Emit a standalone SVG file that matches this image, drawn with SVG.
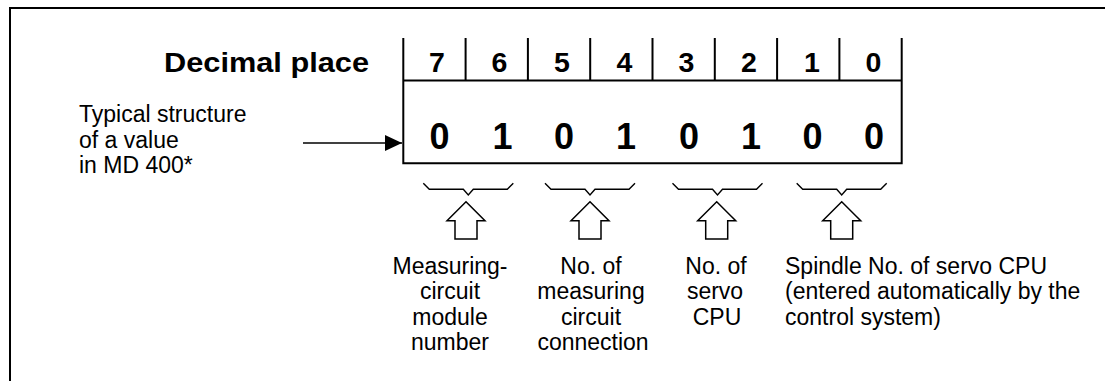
<svg xmlns="http://www.w3.org/2000/svg" width="1105" height="381" viewBox="0 0 1105 381">
<style>
.frame{fill:none;stroke:#000;stroke-width:2}
.tbl{fill:none;stroke:#000;stroke-width:2}
.br{fill:none;stroke:#000;stroke-width:1.4;stroke-linejoin:miter}
.up{fill:#fff;stroke:#000;stroke-width:1.5}
.t{font-family:"Liberation Sans",Arial,sans-serif;font-size:23px;fill:#000}
.hd{font-family:"Liberation Sans",Arial,sans-serif;font-size:28.5px;font-weight:bold;fill:#000}
.dg{font-family:"Liberation Sans",Arial,sans-serif;font-size:36px;font-weight:bold;fill:#000;text-anchor:middle}
.c{text-anchor:middle}
</style>
<defs>
<marker id="ah" markerWidth="17" markerHeight="16" refX="17" refY="8" orient="auto" markerUnits="userSpaceOnUse">
<path d="M0,0 L17,8 L0,16 Z" fill="#000"/>
</marker>
<path id="brace" d="M-45,-6 L-39,0 L-5,0 L0,5.7 L5,0 L39,0 L45,-6"/>
<path id="uparrow" d="M0,0 L19,19 L11,19 L11,37.3 L-11,37.3 L-11,19 L-19,19 Z"/>
</defs>
<g id="frame">
<path class="frame" d="M10,381 L10,8 L1105,8"/>
</g>
<g id="title">
<text class="hd" x="164" y="72" textLength="205" lengthAdjust="spacingAndGlyphs">Decimal place</text>
</g>
<g id="table">
<path class="tbl" d="M403.3,38 L403.3,163.3 L901.7,163.3 L901.7,38 M403.3,80.5 L901.7,80.5 M465.6,38 L465.6,80.5 M527.9,38 L527.9,80.5 M590.2,38 L590.2,80.5 M652.5,38 L652.5,80.5 M714.8,38 L714.8,80.5 M777.1,38 L777.1,80.5 M839.4,38 L839.4,80.5"/>
<g class="hd" text-anchor="middle">
<text x="437" y="72">7</text>
<text x="499.5" y="72">6</text>
<text x="562" y="72">5</text>
<text x="624.5" y="72">4</text>
<text x="686.5" y="72">3</text>
<text x="749" y="72">2</text>
<text x="812" y="72">1</text>
<text x="873.5" y="72">0</text>
</g>
<g>
<text class="dg" x="439.5" y="148.5">0</text>
<text class="dg" x="502.5" y="148.5">1</text>
<text class="dg" x="564" y="148.5">0</text>
<text class="dg" x="626" y="148.5">1</text>
<text class="dg" x="689" y="148.5">0</text>
<text class="dg" x="751" y="148.5">1</text>
<text class="dg" x="812.5" y="148.5">0</text>
<text class="dg" x="874" y="148.5">0</text>
</g>
</g>
<g id="input-label">
<text class="t" x="79" y="122">Typical structure</text>
<text class="t" x="79" y="147.5">of a value</text>
<text class="t" x="79" y="173">in MD 400*</text>
</g>
<g id="connectors">
<line x1="303" y1="143" x2="402" y2="143" stroke="#000" stroke-width="1.5" marker-end="url(#ah)"/>
</g>
<g id="group-module">
<use href="#brace" class="br" x="468.3" y="189.3"/>
<use href="#uparrow" class="up" x="466" y="201.7"/>
<text class="t c" x="450" y="273.5">Measuring-</text>
<text class="t c" x="450" y="299">circuit</text>
<text class="t c" x="450" y="324.5">module</text>
<text class="t c" x="450" y="350">number</text>
</g>
<g id="group-connection">
<use href="#brace" class="br" x="590" y="189.3"/>
<use href="#uparrow" class="up" x="590" y="201.7"/>
<text class="t c" x="591" y="273.5">No. of</text>
<text class="t c" x="591" y="299">measuring</text>
<text class="t c" x="591" y="324.5">circuit</text>
<text class="t c" x="593" y="350">connection</text>
</g>
<g id="group-servo">
<use href="#brace" class="br" x="717.5" y="189.3"/>
<use href="#uparrow" class="up" x="716.7" y="201.7"/>
<text class="t c" x="716" y="273.5">No. of</text>
<text class="t c" x="715" y="299">servo</text>
<text class="t c" x="717" y="324.5">CPU</text>
</g>
<g id="group-spindle">
<use href="#brace" class="br" x="841.7" y="189.3"/>
<use href="#uparrow" class="up" x="841.7" y="201.7"/>
<text class="t" x="785" y="273.5">Spindle No. of servo CPU</text>
<text class="t" x="785" y="299">(entered automatically by the</text>
<text class="t" x="785" y="324.5">control system)</text>
</g>
</svg>
